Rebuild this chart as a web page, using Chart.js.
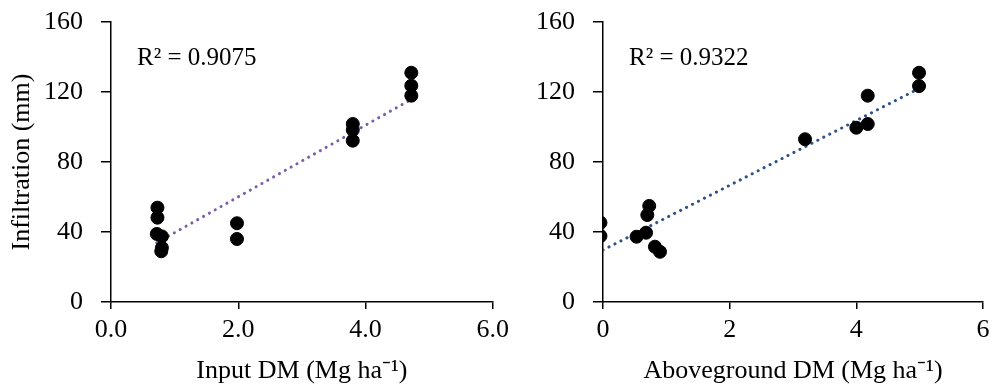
<!DOCTYPE html>
<html>
<head>
<meta charset="utf-8">
<script src="https://cdn.jsdelivr.net/npm/chart.js@4"></script>
<style>
  body { margin: 0; background: #fff; }
  .wrap { position: relative; width: 1000px; height: 391px; }
  #leftChart { position: absolute; left: 0; top: 0; }
  #rightChart { position: absolute; left: 500px; top: 0; }
</style>
</head>
<body>
<div class="wrap">
  <canvas id="leftChart" width="515" height="391"></canvas>
  <canvas id="rightChart" width="500" height="391"></canvas>
</div>
<script>
// Input DM vs infiltration
var inputX = [0.73, 0.73, 0.72, 0.80, 0.79, 0.80, 1.98, 1.98, 3.80, 3.80, 3.80, 4.72, 4.72, 4.72];
var inputY = [53.9, 48.2, 38.9, 37.5, 29.0, 31.0, 45.0, 36.0, 101.7, 98.3, 92.2, 131.0, 123.6, 117.9];
var inputTrendX = [0.72, 4.72];
var inputTrendY = [33.9, 115.8];

// Aboveground DM vs infiltration
var aboveX = [-0.04, -0.04, 0.73, 0.70, 0.53, 0.68, 0.82, 0.90, 3.19, 4.00, 4.18, 4.18, 4.99, 4.99];
var aboveY = [45.3, 37.7, 54.9, 49.7, 37.3, 39.6, 31.6, 28.7, 93.0, 99.6, 101.7, 117.9, 131.0, 123.4];
var aboveTrendX = [0.0, 4.99];
var aboveTrendY = [29.7, 122.0];

var yTicks = [0, 40, 80, 120, 160];

var serif = "'Liberation Serif', 'Times New Roman', serif";
Chart.defaults.font.family = serif;
Chart.defaults.color = '#000';

function pts(xs, ys) {
    return xs.map(function (x, i) { return { x: x, y: ys[i] }; });
}

var r2Label = {
    id: 'r2Label',
    afterDraw: function (chart, args, opts) {
        var c = chart.ctx;
        c.save();
        c.font = '25px ' + serif;
        c.fillStyle = '#000';
        c.textBaseline = 'alphabetic';
        c.fillText(opts.text, chart.chartArea.left + opts.dx, chart.chartArea.top + opts.dy);
        c.restore();
    }
};

function makeChart(id, xs, ys, tx, ty, lineColor, xTitle, yTitle, r2, decimals, yWidth) {
    return new Chart(document.getElementById(id), {
        type: 'scatter',
        data: {
            datasets: [{
                data: pts(xs, ys),
                backgroundColor: '#000',
                borderColor: '#000',
                pointRadius: 6.5,
                pointHoverRadius: 6.5
            }, {
                type: 'line',
                data: pts(tx, ty),
                borderColor: lineColor,
                borderWidth: 3,
                borderDash: [0.1, 6.6],
                borderCapStyle: 'round',
                pointRadius: 0,
                fill: false
            }]
        },
        options: {
            responsive: false,
            animation: false,
            layout: { padding: { top: 22, right: 17, left: 0, bottom: 0 } },
            plugins: {
                legend: { display: false },
                tooltip: { enabled: false },
                r2Label: { text: r2, dx: 26, dy: 43 }
            },
            scales: {
                x: {
                    type: 'linear',
                    min: 0, max: 6,
                    afterBuildTicks: function (s) {
                        s.ticks = [0, 2, 4, 6].map(function (v) { return { value: v }; });
                    },
                    ticks: {
                        font: { size: 26 },
                        padding: 6,
                        callback: function (v) { return decimals ? v.toFixed(1) : String(v); }
                    },
                    grid: { drawOnChartArea: false, color: '#000', tickLength: 7, lineWidth: 1.5 },
                    border: { color: '#000', width: 1.5 },
                    title: { display: true, text: xTitle, font: { size: 26 }, padding: { top: 0 } },
                    afterFit: function (s) { s.height = 89; }
                },
                y: {
                    min: 0, max: 160,
                    afterBuildTicks: function (s) {
                        s.ticks = yTicks.map(function (v) { return { value: v }; });
                    },
                    ticks: { font: { size: 26 }, padding: 18 },
                    grid: { drawOnChartArea: false, color: '#000', tickLength: 10, lineWidth: 1.5 },
                    border: { color: '#000', width: 1.5 },
                    title: { display: !!yTitle, text: yTitle, font: { size: 26 }, padding: { top: 7, bottom: 0 } },
                    afterFit: function (s) {
                        s.width = yWidth;
                        s.paddingTop = 0;
                        s.paddingBottom = 0;
                    }
                }
            }
        },
        plugins: [r2Label]
    });
}

makeChart('leftChart', inputX, inputY, inputTrendX, inputTrendY, '#7B5EA7',
    'Input DM (Mg ha\u207B\u00B9)', 'Infiltration (mm)', 'R\u00B2 = 0.9075', true, 111);
makeChart('rightChart', aboveX, aboveY, aboveTrendX, aboveTrendY, '#2E5284',
    'Aboveground DM (Mg ha\u207B\u00B9)', '', 'R\u00B2 = 0.9322', false, 103);
</script>
</body>
</html>
